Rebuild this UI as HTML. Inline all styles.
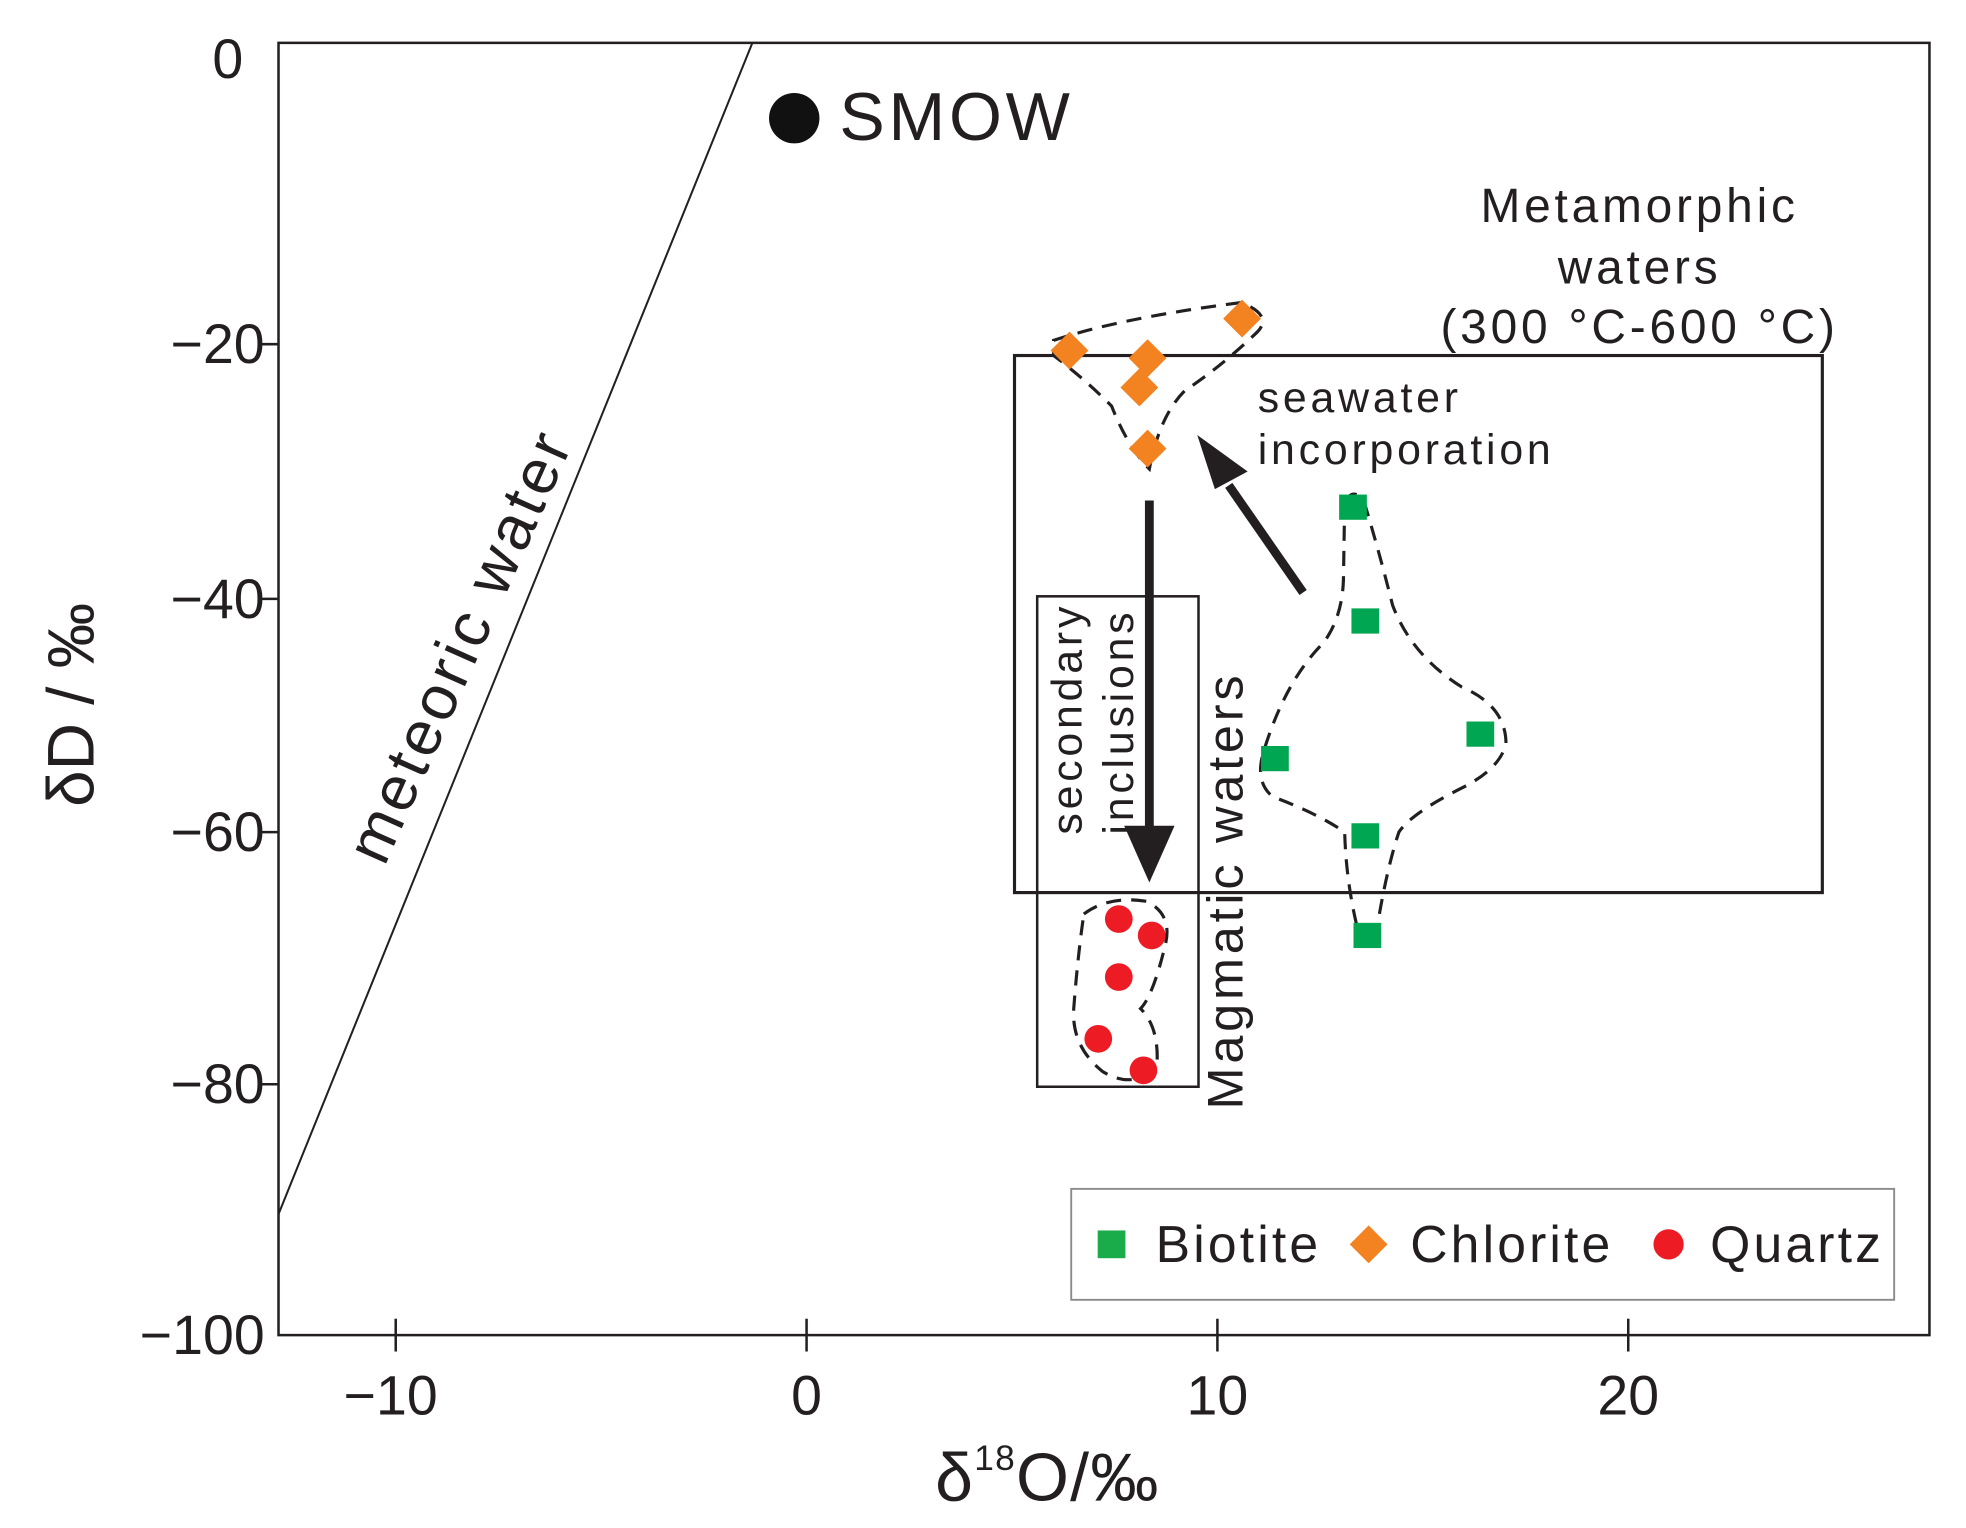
<!DOCTYPE html>
<html><head><meta charset="utf-8"><style>
html,body{margin:0;padding:0;background:#fff;}
svg{display:block;}
text{font-family:"Liberation Sans",sans-serif;fill:#231f20;}
</style></head><body>
<svg id="chart" width="1966" height="1528" viewBox="0 0 1560 1212" preserveAspectRatio="none" xmlns="http://www.w3.org/2000/svg">
<g id="static">
<rect x="221" y="34" width="1310" height="1025" fill="none" stroke="#231f20" stroke-width="2"/>
<line x1="221" y1="963" x2="597" y2="34" stroke="#231f20" stroke-width="1.6"/>
<text transform="translate(305,688) rotate(-66)" font-size="50" letter-spacing="3">meteoric water</text>
<text x="666" y="111" font-size="54" letter-spacing="3">SMOW</text>
<rect x="805" y="282" width="641" height="426" fill="none" stroke="#231f20" stroke-width="2.5"/>
<text font-size="38" letter-spacing="3" text-anchor="middle"><tspan x="1301" y="176">Metamorphic</tspan><tspan x="1301" y="225">waters</tspan><tspan x="1301" y="272">(300 °C-600 °C)</tspan></text>
<rect x="823" y="473" width="128" height="389" fill="none" stroke="#231f20" stroke-width="2"/>
<text font-size="34" letter-spacing="3" transform="rotate(-90)"><tspan x="-662" y="858">secondary</tspan><tspan x="-662" y="899">inclusions</tspan></text>
<text font-size="40" letter-spacing="3" transform="translate(986,880) rotate(-90)">Magmatic waters</text>
<text font-size="34" letter-spacing="3"><tspan x="998" y="327">seawater</tspan><tspan x="998" y="368">incorporation</tspan></text>
<g fill="none" stroke="#231f20" stroke-width="2.5" stroke-dasharray="12,8">
<path d="M836,270 Q890,252 985,240 Q1010,250 998,263 Q970,290 940,310 Q920,330 912,372 Q895,355 882,322 Q860,300 836,282 Z"/>
</g>
<g fill="none" stroke="#231f20" stroke-width="2.5" stroke-dasharray="12,8">
<path d="M1067,398 Q1075,385 1083,400 Q1095,440 1105,480 Q1120,520 1160,545 Q1195,560 1195,590 Q1190,610 1160,625 Q1120,645 1110,660 Q1100,690 1092,740 Q1085,760 1078,740 Q1068,700 1067,660 Q1045,645 1010,632 Q995,620 1003,595 Q1020,540 1050,510 Q1065,490 1066,460 Z"/>
</g>
<g fill="none" stroke="#231f20" stroke-width="2.5" stroke-dasharray="12,8">
<path d="M860,725 Q880,710 910,715 Q930,725 925,748 Q915,790 905,800 Q920,815 918,845 Q900,865 875,850 Q850,830 852,800 Q855,760 860,725 Z"/>
</g>
<g>
<line x1="912" y1="397" x2="912" y2="660" stroke="#231f20" stroke-width="7"/>
<polygon points="892,655 932,655 912,700" fill="#231f20"/>
</g>
<g>
<line x1="1034" y1="470" x2="975" y2="385" stroke="#231f20" stroke-width="7"/>
<polygon points="950,345 990,374 964,388" fill="#231f20"/>
</g>
<rect x="850" y="943" width="653" height="88" fill="#fff" stroke="#8a8a8a" stroke-width="1.5"/>
<rect x="871" y="976" width="22" height="22" fill="#1aab4b"/>
<text x="917" y="1001" font-size="41" letter-spacing="2.5">Biotite</text>
<polygon points="1086,972 1101,987 1086,1002 1071,987" fill="#f38221"/>
<text x="1119" y="1001" font-size="41" letter-spacing="2.5">Chlorite</text>
<circle cx="1324" cy="987" r="12" fill="#ed1c24"/>
<text x="1357" y="1001" font-size="41" letter-spacing="2.5">Quartz</text>
<text x="742" y="1190" font-size="54" letter-spacing="1">δ<tspan font-size="28" dy="-24">18</tspan><tspan dy="24">O/‰</tspan></text>
<text transform="translate(74,640) rotate(-90)" font-size="52">δD / ‰</text>
</g>
<g id="marks"></g>
</svg>
<script>
const xTicks=[-10,0,10,20];
const xTickLabels=["−10","0","10","20"];
const yTicks=[0,-20,-40,-60,-80,-100];
const yTickLabels=["0","−20","−40","−60","−80","−100"];
const yTickPx=[34,273,475,660,860,1059];
const biotiteX=[13.3,13.6,16.4,11.4,13.6,13.65];
const biotiteY=[-32.8,-41.9,-51.6,-53.7,-60.3,-68.2];
const chloriteX=[6.4,8.3,10.6,8.1,8.3];
const chloriteY=[-20.5,-21.1,-18.3,-23.4,-28.2];
const quartzX=[7.6,8.4,7.6,7.1,8.2];
const quartzY=[-66.9,-68.2,-71.5,-76.4,-78.9];
const smowX=[-0.3];
const smowY=[-5];

function sx(v){return 640+v*32.6;}
function sy(v){
  for(let i=0;i<yTicks.length-1;i++){
    if(v<=yTicks[i]&&v>=yTicks[i+1]){
      const t=(yTicks[i]-v)/(yTicks[i]-yTicks[i+1]);
      return yTickPx[i]+t*(yTickPx[i+1]-yTickPx[i]);
    }
  }
  return v>0?yTickPx[0]:yTickPx[yTickPx.length-1];
}
const NS="http://www.w3.org/2000/svg";
const g=document.getElementById('marks');
function mk(tag,attrs){const e=document.createElementNS(NS,tag);for(const k in attrs)e.setAttribute(k,attrs[k]);g.appendChild(e);return e;}

xTicks.forEach((v,i)=>{
  const t=mk('line',{x1:sx(v),x2:sx(v),y1:1046,y2:1072,stroke:'#231f20','stroke-width':2});
  
  
  const l=mk('text',{x:sx(v)+(v<0?-4:0),y:1122,'font-size':44,'text-anchor':'middle'});
  l.textContent=xTickLabels[i];
  
  
});
yTicks.forEach((v,i)=>{
  if(i>0&&i<yTicks.length-1){
    const t=mk('line',{x1:205,x2:221,y1:sy(v),y2:sy(v),stroke:'#231f20','stroke-width':2});
    
    
  }
  const yy=i===0?sy(v)+28:sy(v)+15;
  const l=mk('text',{x:i===0?193:210,y:yy,'font-size':44,'text-anchor':'end'});
  l.textContent=yTickLabels[i];
  
  
});
smowX.forEach((v,i)=>{
  const c=mk('circle',{cx:sx(v),cy:sy(smowY[i]),r:20,fill:'#111'});
  
  
});
biotiteX.forEach((v,i)=>{
  const r=mk('rect',{x:sx(v)-11,y:sy(biotiteY[i])-10,width:22,height:20,fill:'#00a651'});
  
  
});
chloriteX.forEach((v,i)=>{
  const x=sx(v),y=sy(chloriteY[i]);
  const p=mk('polygon',{points:`${x},${y-15} ${x+15},${y} ${x},${y+15} ${x-15},${y}`,fill:'#f38221'});
  
  
});
quartzX.forEach((v,i)=>{
  const c=mk('circle',{cx:sx(v),cy:sy(quartzY[i]),r:11,fill:'#ed1c24'});
  
  
});
</script>
</body></html>
